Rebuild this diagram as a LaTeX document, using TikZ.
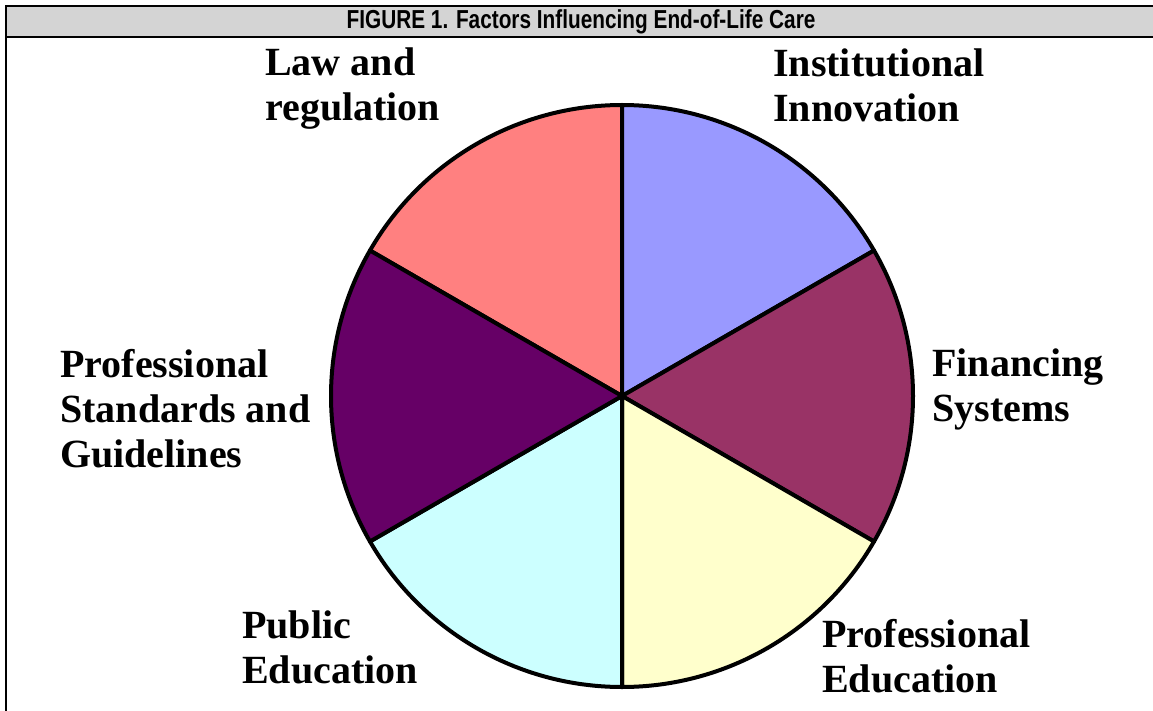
\documentclass[tikz,border=0pt]{standalone}
\usepackage{fontspec}
\setmainfont{Liberation Serif}
\newfontfamily\titlefont{Liberation Sans}
\definecolor{lawcol}{HTML}{FF8080}
\definecolor{instcol}{HTML}{9999FF}
\definecolor{fincol}{HTML}{993366}
\definecolor{proedcol}{HTML}{FFFFCC}
\definecolor{pubcol}{HTML}{CCFFFF}
\definecolor{stdcol}{HTML}{660066}
\definecolor{barcol}{HTML}{D4D4D4}
\begin{document}
\begin{tikzpicture}[x=1pt,y=-1pt,
  lbl/.style={anchor=base west, font=\fontsize{40}{45}\selectfont\bfseries, align=left, inner sep=0pt},
  slice/.style={draw=black, line width=4pt, line join=round},
  frame/.style={line width=2.5pt, draw=black}]
\useasboundingbox (0,0) rectangle (1153,711);
% title bar
\fill[barcol] (6,6) rectangle (1153,37);
\draw[frame] (6,711) -- (6,6) -- (1153,6);
\draw[frame] (6,37) -- (1153,37);
\node[font=\titlefont\bfseries\fontsize{26}{28}\selectfont, inner sep=0pt, xscale=0.8] (title) at (581,22) {FIGURE 1. Factors Influencing End-of-Life Care};
% pie
\coordinate (c) at (622,396);
\def\R{291pt}
\filldraw[slice, fill=lawcol] (c) -- ++(90:\R) arc[start angle=90, end angle=150, radius=\R] -- cycle;
\filldraw[slice, fill=instcol] (c) -- ++(30:\R) arc[start angle=30, end angle=90, radius=\R] -- cycle;
\filldraw[slice, fill=fincol] (c) -- ++(-30:\R) arc[start angle=-30, end angle=30, radius=\R] -- cycle;
\filldraw[slice, fill=proedcol] (c) -- ++(-90:\R) arc[start angle=-90, end angle=-30, radius=\R] -- cycle;
\filldraw[slice, fill=pubcol] (c) -- ++(210:\R) arc[start angle=210, end angle=270, radius=\R] -- cycle;
\filldraw[slice, fill=stdcol] (c) -- ++(150:\R) arc[start angle=150, end angle=210, radius=\R] -- cycle;
% labels (anchor = baseline of last line)
\node[lbl] (law) at (265,121) {Law and\\regulation};
\node[lbl] (inst) at (773,122) {Institutional\\Innovation};
\node[lbl] (std) at (60,467) {Professional\\Standards and\\Guidelines};
\node[lbl] (fin) at (932,421) {Financing\\Systems};
\node[lbl] (pub) at (242,683) {Public\\Education};
\node[lbl] (proed) at (822,692) {Professional\\Education};
\end{tikzpicture}
\end{document}
